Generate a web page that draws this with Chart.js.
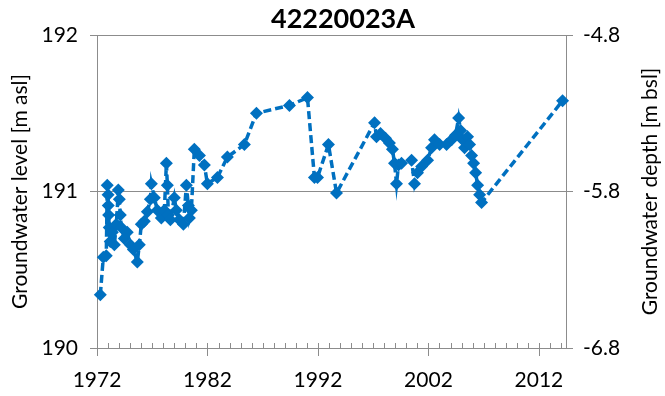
<!DOCTYPE html>
<html><head><meta charset="utf-8">
<script src="https://cdn.jsdelivr.net/npm/chart.js@4/dist/chart.umd.min.js"></script>
<style>html,body{margin:0;padding:0;background:#fff;overflow:hidden}#wrap{width:665px;height:396px}</style>
</head><body><div id="wrap"><canvas id="c" width="665" height="396"></canvas></div>
<script>
const chartTitle = '42220023A';
const leftAxisTitle = 'Groundwater level [m asl]';
const rightAxisTitle = 'Groundwater depth [m bsl]';
const years = [
  1972.30, 1972.57, 1972.84, 1972.93, 1973.00, 1973.02, 1973.05, 1973.11, 1973.20, 1973.39,
  1973.57, 1973.75, 1973.93, 1974.02, 1974.11, 1974.20, 1974.47, 1974.74, 1975.01, 1975.29,
  1975.65, 1975.83, 1976.01, 1976.28, 1976.56, 1976.83, 1976.92, 1977.19, 1977.46, 1977.82,
  1978.10, 1978.28, 1978.37, 1978.46, 1978.64, 1979.00, 1979.18, 1979.45, 1979.82, 1980.09,
  1980.27, 1980.36, 1980.54, 1980.81, 1981.27, 1981.72, 1981.99, 1982.90, 1983.80, 1985.34,
  1986.43, 1989.42, 1991.05, 1991.68, 1991.96, 1992.95, 1993.68,
  1997.12, 1997.30, 1997.66, 1998.11, 1998.47, 1998.74, 1998.93, 1999.11, 1999.29, 1999.56,
  2000.47, 2000.74, 2001.01, 2001.38, 2001.92, 2002.28, 2002.55, 2003.01, 2003.64, 2004.10,
  2004.45, 2004.73, 2004.91, 2005.09, 2005.27, 2005.54, 2005.72, 2005.90, 2006.09, 2006.27,
  2006.45, 2006.63, 2006.81, 2014.14
];
const levels = [
  190.34, 190.58, 190.59, 191.04, 190.98, 190.91, 190.85, 190.77, 190.68, 190.74,
  190.66, 190.79, 191.01, 190.95, 190.85, 190.77, 190.70, 190.74, 190.66, 190.63,
  190.55, 190.66, 190.79, 190.81, 190.87, 190.95, 191.05, 190.96, 190.88, 190.83,
  190.88, 191.18, 191.04, 190.85, 190.82, 190.96, 190.88, 190.82, 190.79, 191.04,
  190.91, 190.83, 190.88, 191.27, 191.23, 191.17, 191.05, 191.09, 191.22, 191.30,
  191.50, 191.55, 191.60, 191.09, 191.09, 191.30, 190.99,
  191.44, 191.35, 191.37, 191.34, 191.31, 191.27, 191.18, 191.05, 191.17, 191.18,
  191.20, 191.05, 191.12, 191.16, 191.20, 191.28, 191.33, 191.30, 191.30, 191.33,
  191.36, 191.47, 191.39, 191.33, 191.28, 191.35, 191.30, 191.23, 191.18, 191.12,
  191.04, 190.98, 190.93, 191.58
];
const yearTicks = [1972, 1982, 1992, 2002, 2012];
const levelTicks = [190, 191, 192];
const depthTicks = [-6.8, -5.8, -4.8];
const xRange = [1972, 2014.45];
const levelRange = [190, 192];
const depthRange = [-6.8, -4.8];

const AXIS = '#8c8c8c';
const TXT = '#000000';
const FONT = 'Lato';

const minorTicks = {
  id: 'minorTicks',
  afterDraw(chart) {
    const xs = chart.scales.x, ctx = chart.ctx, b = chart.chartArea.bottom;
    ctx.save();
    ctx.strokeStyle = AXIS; ctx.lineWidth = 1;
    for (let y = Math.ceil(xs.min); y <= xs.max; y++) {
      const px = Math.round(xs.getPixelForValue(y)) + 0.5;
      const major = yearTicks.includes(y);
      ctx.beginPath();
      ctx.moveTo(px, b - 5);
      ctx.lineTo(px, major ? b + 8 : b);
      ctx.stroke();
    }
    ctx.restore();
  }
};
const textPlugin = {
  id: 'textPlugin',
  afterDraw(chart) {
    const ctx = chart.ctx, ca = chart.chartArea;
    ctx.save();
    ctx.fillStyle = TXT;
    ctx.font = 'bold 27px ' + FONT;
    ctx.textAlign = 'center';
    ctx.textBaseline = 'middle';
    ctx.fillText(chartTitle, 343, 19);
    ctx.translate(650, (ca.top + ca.bottom) / 2);
    ctx.rotate(-Math.PI / 2);
    ctx.font = '21px ' + FONT;
    ctx.fillText(rightAxisTitle, 0, 0);
    ctx.restore();
  }
};

const data = years.map((x, i) => ({x, y: levels[i]}));

new Chart(document.getElementById('c'), {
  type: 'scatter',
  data: {datasets: [{
    data,
    showLine: true,
    borderColor: '#0070C0',
    backgroundColor: '#0070C0',
    borderWidth: 3.5,
    borderDash: [8, 4],
    pointStyle: 'rectRot',
    pointRadius: 6.5,
    pointBorderWidth: 0,
    pointHoverRadius: 6.5,
    clip: false,
    yAxisID: 'y'
  }, {
    data: [],
    yAxisID: 'y2'
  }]},
  options: {
    responsive: false,
    animation: false,
    devicePixelRatio: 1,
    layout: {padding: {top: 35, left: 0, right: 0, bottom: 0}},
    plugins: {legend: {display: false}, tooltip: {enabled: false}, title: {display: false}},
    scales: {
      x: {
        type: 'linear', position: 'bottom', min: xRange[0], max: xRange[1],
        afterBuildTicks: s => { s.ticks = yearTicks.map(v => ({value: v})); },
        afterFit: s => { s.height = 48; },
        grid: {display: true, drawOnChartArea: false, drawTicks: false},
        border: {display: true, color: AXIS, width: 1},
        ticks: {color: TXT, font: {family: FONT, size: 21}, padding: 20, maxRotation: 0, autoSkip: false,
                callback: v => String(v)}
      },
      y: {
        type: 'linear', position: 'left', min: levelRange[0], max: levelRange[1],
        afterBuildTicks: s => { s.ticks = levelTicks.map(v => ({value: v})); },
        afterFit: s => { s.width = 97; },
        grid: {color: AXIS, lineWidth: 1, tickLength: 7, drawTicks: true},
        border: {display: true, color: AXIS, width: 1},
        ticks: {color: TXT, font: {family: FONT, size: 21}, padding: 12, callback: v => String(v)},
        title: {display: true, text: leftAxisTitle, color: TXT, font: {family: FONT, size: 21}, padding: {top: 8, bottom: 0}}
      },
      y2: {
        type: 'linear', position: 'right', min: depthRange[0], max: depthRange[1],
        afterBuildTicks: s => { s.ticks = depthTicks.map(v => ({value: v})); },
        afterFit: s => { s.width = 99; },
        grid: {drawOnChartArea: false, color: AXIS, tickLength: 7, drawTicks: true},
        border: {display: true, color: AXIS, width: 1},
        ticks: {color: TXT, font: {family: FONT, size: 21}, padding: 10, callback: v => v.toFixed(1)},
        title: {display: false}
      }
    }
  },
  plugins: [minorTicks, textPlugin]
});
</script></body></html>
